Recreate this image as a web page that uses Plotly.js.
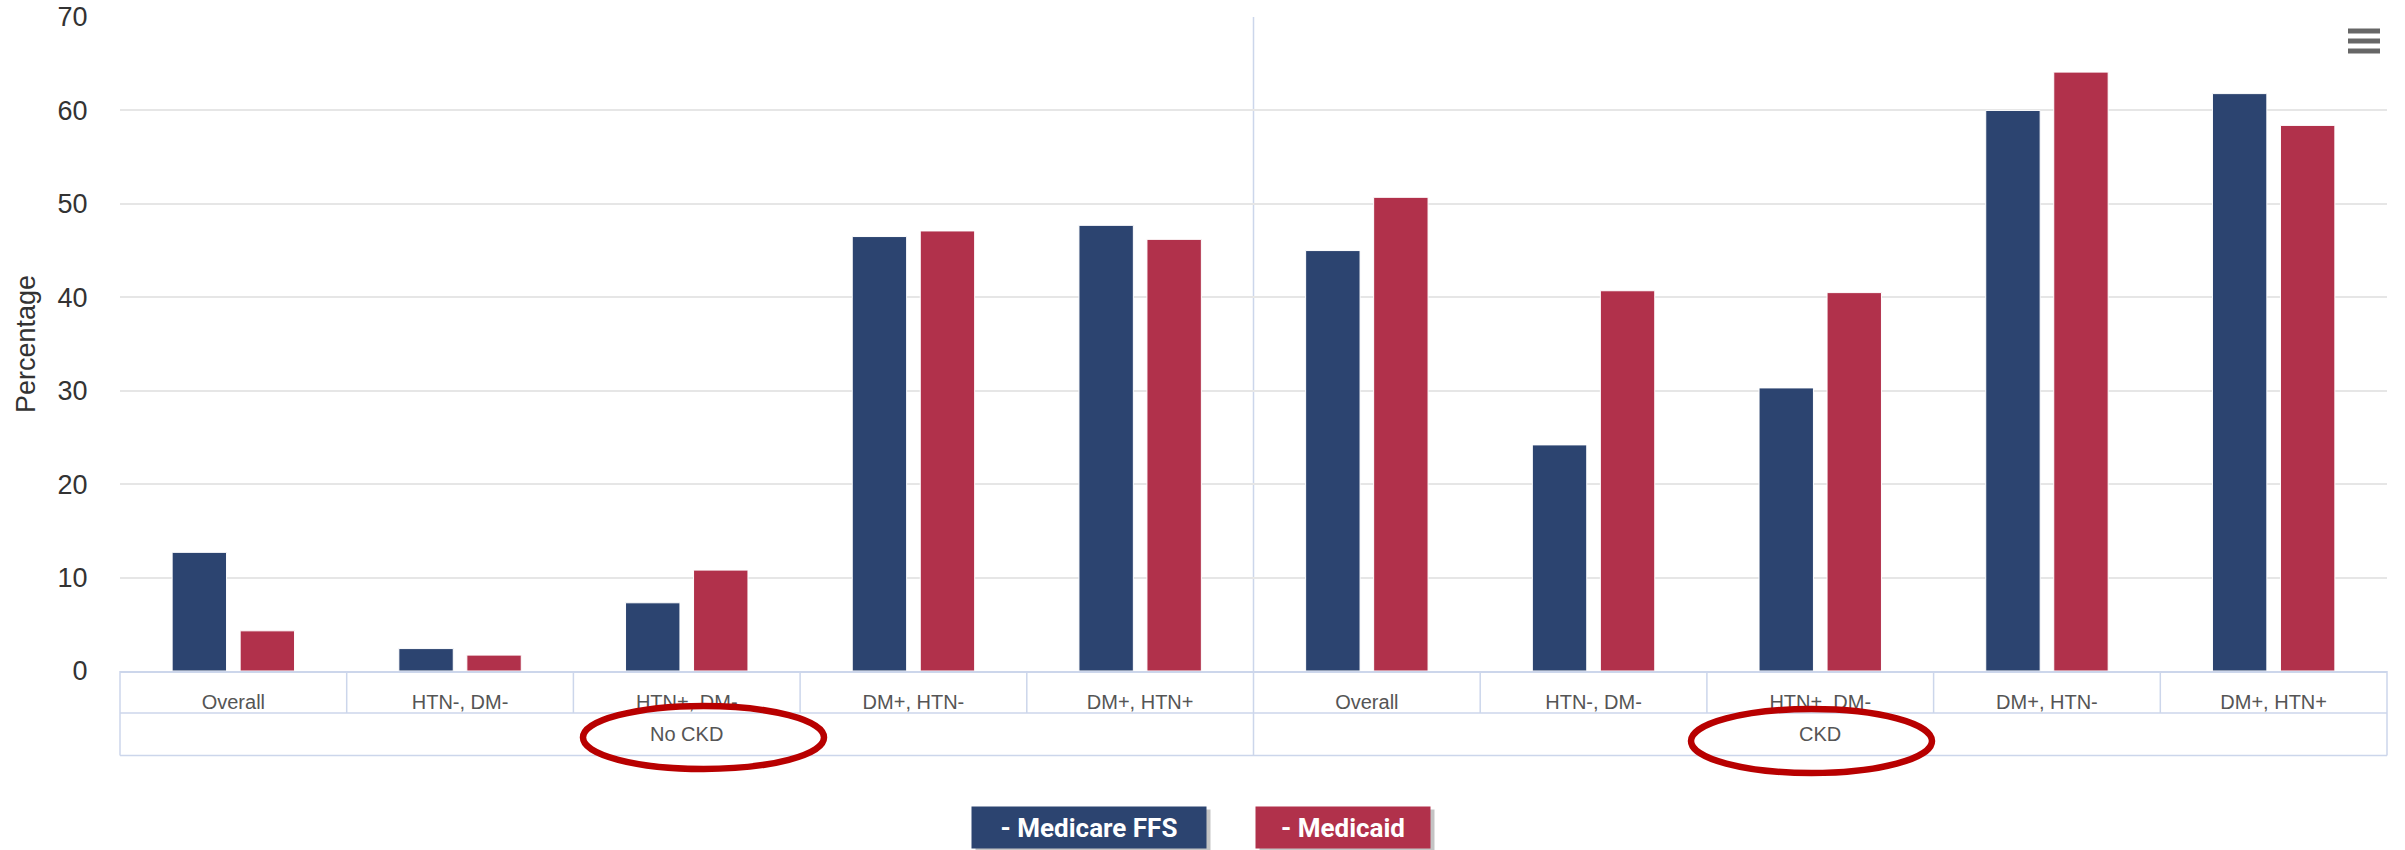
<!DOCTYPE html>
<html>
<head>
<meta charset="utf-8">
<script src="https://cdn.plot.ly/plotly-3.0.1.min.js"></script>
<style>
  html, body { margin: 0; padding: 0; background: #ffffff; }
  #chart { width: 2405px; height: 850px; }
</style>
</head>
<body>
<div id="chart"></div>
<script>
// ---- data ----
const groups = ['No CKD', 'CKD'];
const subcategories = ['Overall', 'HTN-, DM-', 'HTN+, DM-', 'DM+, HTN-', 'DM+, HTN+'];
const seriesNames = ['Medicare FFS', 'Medicaid'];
const medicareFFS = [12.7, 2.4, 7.3, 46.5, 47.7, 45.0, 24.2, 30.3, 60.0, 61.8];
const medicaid = [4.3, 1.7, 10.8, 47.1, 46.2, 50.7, 40.7, 40.5, 64.1, 58.4];
const yTickVals = [0, 10, 20, 30, 40, 50, 60, 70];
const yTitle = 'Percentage';

// ---- styling ----
const colors = ['#2c4470', '#b1314b'];
const W = 2405, H = 850;
const L = 120, R = 2387, T = 17, B = 671;
const xp = px => (px - L) / (R - L);
const yp = py => (B - py) / (B - T);
const gridLine = '#ccd6eb';
const labelFont = { family: 'Liberation Sans, Arial, sans-serif', size: 20, color: '#555555' };

// grouped categories built from arrays (unique keys, shown with sub-category text)
const keys = [], innerX = [];
groups.forEach(g => subcategories.forEach(s => { keys.push(g + ' | ' + s); innerX.push(s); }));
const nCat = keys.length;

const traces = [medicareFFS, medicaid].map((vals, i) => ({
  type: 'bar',
  name: seriesNames[i],
  x: keys,
  y: vals,
  marker: { color: colors[i], line: { color: '#ffffff', width: 1 } },
  hoverinfo: 'x+y+name'
}));

// table-like grid below the axis
const shapes = [];
const row1 = yp(713), row2 = yp(755.5);
const lineStyle = { color: gridLine, width: 1.5 };
shapes.push({ type: 'line', xref: 'paper', yref: 'paper', x0: 0, x1: 1, y0: row1, y1: row1, line: lineStyle });
shapes.push({ type: 'line', xref: 'paper', yref: 'paper', x0: 0, x1: 1, y0: row2, y1: row2, line: lineStyle });
shapes.push({ type: 'line', xref: 'paper', yref: 'paper', x0: 0, x1: 0, y0: 0, y1: row2, line: lineStyle });
shapes.push({ type: 'line', xref: 'paper', yref: 'paper', x0: 1, x1: 1, y0: 0, y1: row2, line: lineStyle });
for (let k = 1; k < nCat; k++) {
  const gx = k / nCat;
  if (k % subcategories.length === 0) {
    shapes.push({ type: 'line', xref: 'paper', yref: 'paper', x0: gx, x1: gx, y0: 1, y1: row2, line: lineStyle, layer: 'below' });
  } else {
    shapes.push({ type: 'line', xref: 'paper', yref: 'paper', x0: gx, x1: gx, y0: 0, y1: row1, line: lineStyle });
  }
}
// red highlight ellipses
const ell = (x0, x1, y0, y1) => ({
  type: 'circle', xref: 'paper', yref: 'paper',
  x0: xp(x0), x1: xp(x1), y0: yp(y1), y1: yp(y0),
  line: { color: '#b80000', width: 6.5 }, fillcolor: 'rgba(0,0,0,0)'
});
shapes.push(ell(583, 824, 706, 769));
shapes.push(ell(1691, 1932, 709, 773));
// hamburger menu icon
[31, 41, 51].forEach(py => {
  shapes.push({ type: 'line', xref: 'paper', yref: 'paper',
    x0: xp(2348), x1: xp(2380), y0: yp(py), y1: yp(py),
    line: { color: '#666666', width: 5 } });
});

const annotations = [];
// group labels (second row of the category table)
groups.forEach((g, gi) => {
  annotations.push({
    xref: 'paper', yref: 'paper', x: (gi + 0.5) / groups.length, y: yp(734),
    xanchor: 'center', yanchor: 'middle', showarrow: false,
    text: g, font: labelFont
  });
});
// legend buttons
const btn = [
  { cx: 1089, w: 230 },
  { cx: 1343, w: 170 }
];
seriesNames.forEach((name, i) => {
  annotations.push({
    xref: 'paper', yref: 'paper', x: xp(btn[i].cx), y: yp(827.5),
    xanchor: 'center', yanchor: 'middle', xshift: 4, yshift: -3,
    text: '- ' + name, showarrow: false,
    width: btn[i].w, height: 37, borderpad: 2,
    bgcolor: 'rgba(60,60,60,0.3)',
    font: { family: 'Roboto, sans-serif', size: 26, color: 'rgba(0,0,0,0)', weight: 'bold' }
  });
  annotations.push({
    xref: 'paper', yref: 'paper', x: xp(btn[i].cx), y: yp(827.5),
    xanchor: 'center', yanchor: 'middle',
    text: '- ' + name, showarrow: false,
    width: btn[i].w, height: 37, borderpad: 2,
    bgcolor: colors[i],
    font: { family: 'Roboto, sans-serif', size: 26, color: '#ffffff', weight: 'bold' }
  });
});

const layout = {
  width: W, height: H,
  margin: { l: L, r: W - R, t: T, b: H - B, pad: 0 },
  paper_bgcolor: '#ffffff', plot_bgcolor: '#ffffff',
  font: { family: 'Liberation Sans, Arial, sans-serif', color: '#333333' },
  showlegend: false,
  barmode: 'group',
  bargap: 0.4,
  bargroupgap: 0.2,
  xaxis: {
    type: 'category',
    tickvals: keys, ticktext: innerX,
    showline: true, linecolor: gridLine, linewidth: 1.5,
    showgrid: false, zeroline: false,
    ticks: 'outside', ticklen: 12, tickcolor: 'rgba(0,0,0,0)',
    tickfont: labelFont
  },
  yaxis: {
    range: [0, 70],
    tickvals: yTickVals,
    showgrid: true, gridcolor: '#e6e6e6', gridwidth: 1.5,
    zeroline: false, showline: false,
    ticks: 'outside', ticklen: 26, tickcolor: 'rgba(0,0,0,0)',
    tickfont: { size: 27, color: '#333333' },
    title: { text: yTitle, font: { size: 27, color: '#333333' }, standoff: 14 }
  },
  shapes: shapes,
  annotations: annotations
};

Plotly.newPlot('chart', traces, layout, { displayModeBar: false, responsive: false });
</script>
</body>
</html>
